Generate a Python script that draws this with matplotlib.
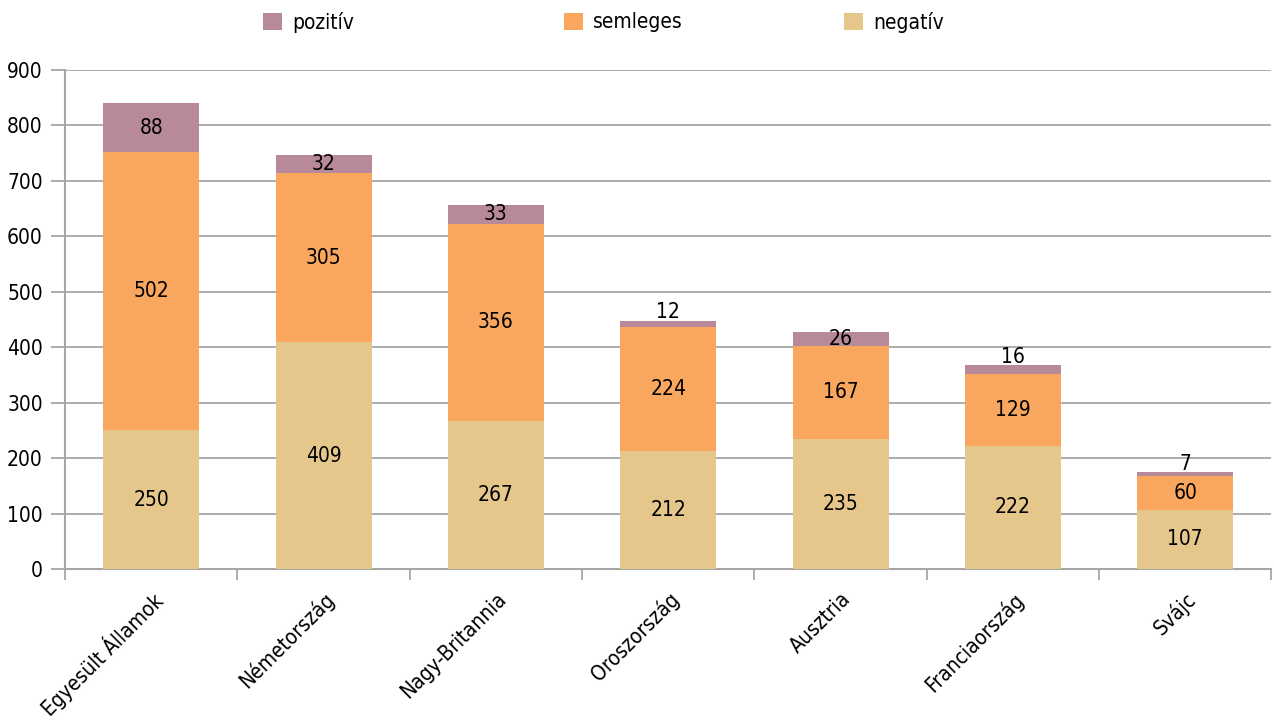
import matplotlib.pyplot as plt

countries = ['Egyesült Államok', 'Németország', 'Nagy-Britannia', 'Oroszország',
             'Ausztria', 'Franciaország', 'Svájc']
negativ = [250, 409, 267, 212, 235, 222, 107]
semleges = [502, 305, 356, 224, 167, 129, 60]
pozitiv = [88, 32, 33, 12, 26, 16, 7]

# condensed face, like the original narrow font
plt.rcParams['font.family'] = ['DejaVu Sans']
plt.rcParams['font.stretch'] = 'condensed'

c_neg = '#E5C78C'
c_sem = '#F9A75F'
c_poz = '#B8889B'
grid_c = '#A6A6A6'

fig = plt.figure(figsize=(12.74, 7.22), dpi=100)
ax = fig.add_axes([0.051, 0.212, 0.947, 0.691])

x = list(range(len(countries)))
w = 0.557
b1 = ax.bar(x, negativ, w, color=c_neg, zorder=3, label='negatív')
bot2 = negativ
b2 = ax.bar(x, semleges, w, bottom=bot2, color=c_sem, zorder=3, label='semleges')
bot3 = [a + b for a, b in zip(negativ, semleges)]
b3 = ax.bar(x, pozitiv, w, bottom=bot3, color=c_poz, zorder=3, label='pozitív')

fs = 15
for i in x:
    ax.text(i, negativ[i] / 2, str(negativ[i]), ha='center', va='center', fontsize=fs, zorder=4)
    ax.text(i, bot2[i] + semleges[i] / 2, str(semleges[i]), ha='center', va='center', fontsize=fs, zorder=4)
    v = pozitiv[i]
    if v < 20:
        ax.annotate(str(v), (i, bot3[i] + v), xytext=(0, -1), textcoords='offset points',
                    ha='center', va='bottom', fontsize=fs, zorder=4)
    else:
        ax.text(i, bot3[i] + v / 2, str(v), ha='center', va='center', fontsize=fs, zorder=4)

ax.set_xlim(-0.5, len(countries) - 0.5)
ax.set_ylim(0, 900)
ax.set_yticks(range(0, 901, 100))
ax.yaxis.grid(True, color=grid_c, linewidth=1.3, zorder=0)
ax.set_xticks(x)
ax.set_xticklabels(countries, rotation=45, ha='right', rotation_mode='anchor', fontsize=fs)
ax.set_xticks([i - 0.5 for i in range(len(countries) + 1)], minor=True)
ax.tick_params(axis='x', which='major', length=0, pad=14)
ax.tick_params(axis='x', which='minor', length=8, width=1.3, color=grid_c)
ax.tick_params(axis='y', length=10, width=1.3, color=grid_c, labelsize=fs, pad=6)
for s in ['top', 'right']:
    ax.spines[s].set_visible(False)
for s in ['left', 'bottom']:
    ax.spines[s].set_color(grid_c)
    ax.spines[s].set_linewidth(1.5)

for h, xpos in [(b3, 0.192), (b2, 0.428), (b1, 0.648)]:
    fig.legend(handles=[h], loc='center left', bbox_to_anchor=(xpos, 0.969), frameon=False,
               fontsize=fs, handlelength=0.9, handleheight=0.9, handletextpad=0.5)

plt.savefig('out.png', dpi=100)
